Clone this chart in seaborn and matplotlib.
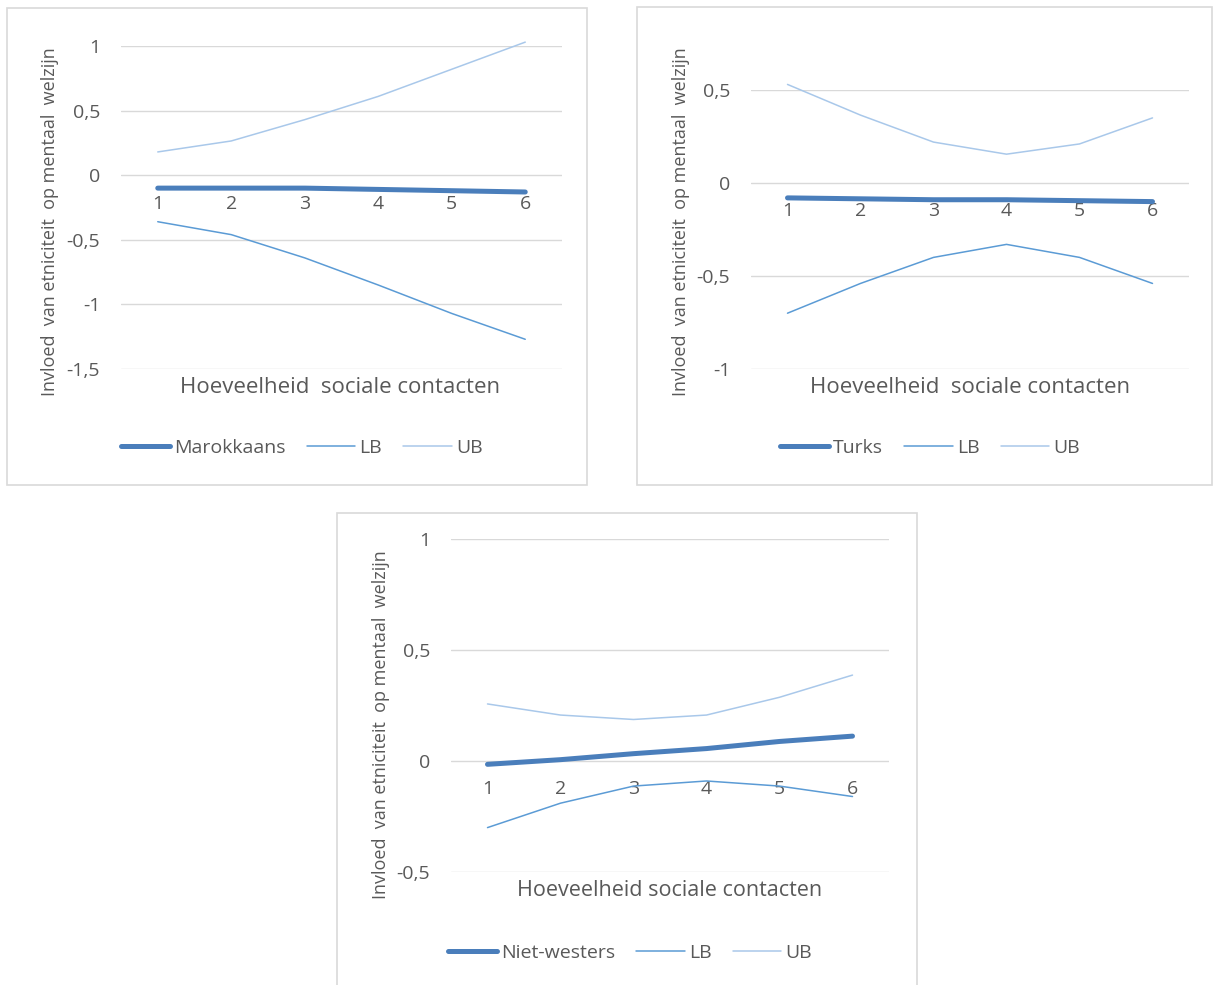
import matplotlib
matplotlib.use("Agg")
import matplotlib.pyplot as plt
import seaborn as sns
import pandas as pd
from matplotlib.patches import Rectangle

# Data
contacts = [1, 2, 3, 4, 5, 6]

mar_est = [-0.10, -0.10, -0.10, -0.11, -0.12, -0.13]
mar_lb = [-0.36, -0.46, -0.64, -0.85, -1.07, -1.27]
mar_ub = [0.18, 0.265, 0.43, 0.61, 0.82, 1.03]

turk_est = [-0.08, -0.085, -0.09, -0.09, -0.095, -0.10]
turk_lb = [-0.70, -0.54, -0.40, -0.33, -0.40, -0.54]
turk_ub = [0.53, 0.365, 0.22, 0.155, 0.21, 0.35]

nw_est = [-0.015, 0.006, 0.033, 0.056, 0.088, 0.112]
nw_lb = [-0.30, -0.19, -0.113, -0.09, -0.113, -0.16]
nw_ub = [0.257, 0.207, 0.187, 0.207, 0.287, 0.387]

W, H = 1213, 985
TXT = "#595959"
GRID = "#d9d9d9"
C_EST, C_LB, C_UB = "#4a7ebb", "#5b9bd5", "#a9c8ea"

sns.set_style("white")
plt.rcParams['font.family'] = ['Open Sans', 'DejaVu Sans']

fig = plt.figure(figsize=(W / 100, H / 100), dpi=100)


def px_rect(l, t, r, b):
    return [l / W, 1 - b / H, (r - l) / W, (b - t) / H]


def panel(box, axrect, name, est, lb, ub, ylim, yticks, ylabels,
          ylab_xy, xtitle, xtitle_xy, xtitle_size, leg_xy):
    # light grey frame around each chart
    bl, bt, br, bb = box
    fig.patches.append(Rectangle((bl / W, 1 - bb / H), (br - bl) / W, (bb - bt) / H,
                                 transform=fig.transFigure, fill=False,
                                 edgecolor=GRID, linewidth=1.2, zorder=0))
    ax = fig.add_axes(px_rect(*axrect))
    df = pd.DataFrame({'x': contacts, 'est': est, 'lb': lb, 'ub': ub})
    sns.lineplot(data=df, x='x', y='est', ax=ax, color=C_EST, linewidth=3.6,
                 label=name, solid_capstyle='round', clip_on=False, zorder=4)
    sns.lineplot(data=df, x='x', y='lb', ax=ax, color=C_LB, linewidth=1.1,
                 label='LB', clip_on=False, zorder=3)
    sns.lineplot(data=df, x='x', y='ub', ax=ax, color=C_UB, linewidth=1.1,
                 label='UB', clip_on=False, zorder=3)
    ax.set_xlim(0.5, 6.5)
    ax.set_ylim(*ylim)
    ax.set_yticks(yticks)
    ax.set_yticklabels(ylabels)
    ax.set_xticks(contacts)
    ax.set_xticklabels([str(c) for c in contacts])
    for s in ['top', 'right', 'left']:
        ax.spines[s].set_visible(False)
    ax.spines['bottom'].set_position(('data', 0))
    ax.spines['bottom'].set_visible(False)
    ax.yaxis.grid(True, color=GRID, linewidth=1)
    ax.set_axisbelow(True)
    ax.tick_params(axis='x', length=0, pad=14, labelsize=14, labelcolor=TXT)
    ax.tick_params(axis='y', length=0, pad=15, labelsize=14, labelcolor=TXT)
    ax.set_xlabel('')
    ax.set_ylabel('')
    fig.text(ylab_xy[0] / W, 1 - ylab_xy[1] / H,
             'Invloed  van etniciteit  op mentaal  welzijn',
             rotation=90, ha='center', va='center', fontsize=13, color=TXT)
    fig.text(xtitle_xy[0] / W, 1 - xtitle_xy[1] / H, xtitle,
             ha='center', va='center', fontsize=xtitle_size, color=TXT)
    ax.legend(loc='center', bbox_to_anchor=(leg_xy[0] / W, 1 - leg_xy[1] / H),
              bbox_transform=fig.transFigure, ncol=3, frameon=False,
              fontsize=14, labelcolor=TXT, handlelength=2.5, handletextpad=0.2,
              columnspacing=1.1)
    return ax


panel((7, 8, 587, 485), (121, 46, 562, 369), 'Marokkaans', mar_est, mar_lb, mar_ub,
      (-1.5, 1.0), [-1.5, -1, -0.5, 0, 0.5, 1], ['-1,5', '-1', '-0,5', '0', '0,5', '1'],
      (50, 222), 'Hoeveelheid  sociale contacten', (340, 388), 16, (302, 448))

panel((637, 7, 1212, 485), (751, 90, 1189, 369), 'Turks', turk_est, turk_lb, turk_ub,
      (-1.0, 0.5), [-1, -0.5, 0, 0.5], ['-1', '-0,5', '0', '0,5'],
      (681, 222), 'Hoeveelheid  sociale contacten', (970, 388), 16, (930, 448))

panel((337, 513, 917, 995), (451, 539, 889, 872), 'Niet-westers', nw_est, nw_lb, nw_ub,
      (-0.5, 1.0), [-0.5, 0, 0.5, 1], ['-0,5', '0', '0,5', '1'],
      (381, 725), 'Hoeveelheid sociale contacten', (670, 891), 15.5, (630, 953))

fig.savefig('out.png', dpi=100, facecolor='white')
